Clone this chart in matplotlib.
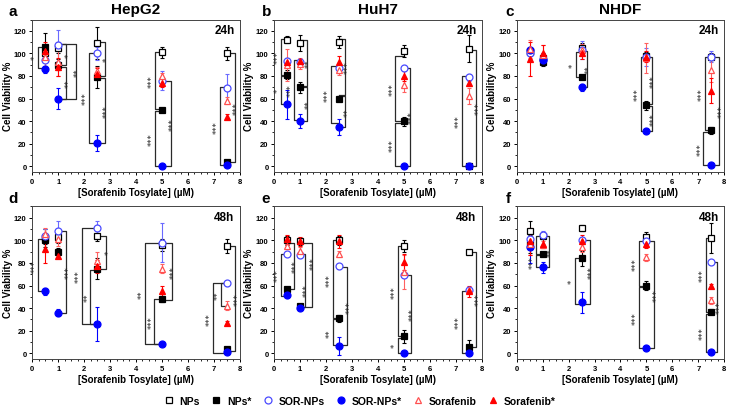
import matplotlib.pyplot as plt
from matplotlib.ticker import MultipleLocator

plt.rcParams['font.family'] = ['Liberation Sans', 'DejaVu Sans']

conc = [0.5, 1, 2.5, 5, 7.5]
series = ["NPs", "NPs*", "SOR-NPs", "SOR-NPs*", "Sorafenib", "Sorafenib*"]

# values per panel, rows follow `series`
a_vals = [[100, 105, 109, 101, 100], [106, 90, 79, 50, 4], [94, 107, 100, 76, 69],
          [86, 60, 21, 0.5, 1], [97, 92, 84, 80, 58], [102, 88, 82, 74, 44]]
a_err = [[5, 5, 14, 5, 6], [12, 5, 10, 2, 1], [8, 14, 6, 8, 13],
         [3, 9, 7, 0.5, 0.5], [10, 12, 4, 3, 3], [8, 8, 5, 4, 2]]
b_vals = [[112, 109, 110, 102, 104], [81, 70, 60, 40, 0.5], [93, 92, 87, 87, 79],
          [55, 40, 35, 0.3, 0.3], [90, 91, 85, 72, 62], [92, 93, 92, 80, 74]]
b_err = [[3, 7, 5, 5, 12], [4, 5, 2, 4, 0.5], [3, 3, 4, 3, 3],
         [13, 6, 7, 0.5, 0.5], [14, 5, 4, 6, 7], [4, 2, 6, 4, 3]]
c_vals = [[102, 96, 105, 98, 97], [101, 92, 79, 54, 32], [100, 95, 103, 97, 97],
          [103, 94, 70, 31, 1.5], [104, 99, 103, 96, 85], [95, 100, 100, 97, 67]]
c_err = [[4, 4, 4, 3, 3], [3, 3, 2, 4, 3], [5, 5, 8, 8, 5],
         [3, 3, 3, 1, 0.5], [8, 8, 5, 13, 10], [15, 7, 5, 5, 11]]
d_vals = [[102, 103, 104, 96, 95], [100, 90, 75, 48, 4], [104, 108, 111, 98, 62],
          [55, 36, 26, 8, 1], [106, 101, 82, 75, 42], [92, 86, 77, 55, 27]]
d_err = [[8, 5, 5, 5, 6], [3, 3, 9, 3, 1], [6, 9, 6, 17, 2],
         [3, 3, 15, 1, 0.5], [5, 6, 8, 4, 4], [12, 2, 6, 5, 2]]
e_vals = [[100, 99, 100, 95, 90], [57, 42, 31, 15, 6], [88, 87, 77, 69, 56],
          [52, 40.5, 6.5, 0.5, 0.5], [95, 91, 88, 72, 56], [101, 99, 99, 81, 55]]
e_err = [[4, 3, 4, 5, 1], [2, 2, 3, 6, 6], [2, 3, 2, 2, 2],
         [3, 2, 8, 0.5, 0.5], [3, 3, 3, 15, 3], [4, 4, 6, 7, 5]]
f_vals = [[108, 104, 111, 103, 102], [97, 88, 84, 60, 37], [101, 105, 100, 99, 81],
          [94, 76, 45, 4.5, 1], [97, 96, 94, 85, 47], [99, 97, 99, 97, 59.5]]
f_err = [[9, 3, 3, 4, 13], [8, 2, 7, 4, 2], [5, 3, 3, 3, 2],
         [14, 5, 9, 1, 0.5], [10, 3, 4, 3, 3], [12, 4, 6, 4, 2]]

# significance brackets: (point x, bracket x, y low, y high, stars[, star y])
a_sig = [(0.5, 0.21, 87, 106, "*"), (1, 1.32, 90, 108, "*"), (1, 1.32, 60, 88, "**"),
         (1, 1.67, 60, 108, "**"), (2.5, 2.2, 21, 100, "***"), (2.5, 2.79, 80, 110, "*"),
         (2.5, 2.79, 21, 78, "***"), (5, 4.74, 51, 101, "***"), (5, 4.74, 0.5, 49, "***"),
         (5, 5.35, 0.5, 76, "***"), (7.5, 7.23, 1, 70, "***"), (7.5, 7.8, 4, 100, "***")]
b_sig = [(0.5, 0.25, 81, 113, "***"), (0.5, 0.25, 55, 80, "*"), (1, 0.77, 41, 94, "***"),
         (1, 1.26, 71, 112, "**"), (1, 1.26, 40, 70, "**"), (2.5, 2.19, 38, 89, "***"),
         (2.5, 2.75, 63, 113, "***"), (2.5, 2.75, 35, 62, "**"), (5, 4.68, 40, 98, "***"),
         (5, 4.68, 0.3, 38, "***"), (5, 5.23, 0.3, 87, "***"), (7.5, 7.23, 0.3, 80, "***"),
         (7.5, 7.8, 0.3, 103, "***")]
c_sig = [(2.5, 2.27, 79, 101, "*"), (2.5, 2.71, 70, 102, "**"), (5, 4.78, 31, 97, "***"),
         (5, 5.22, 55, 97, "***"), (5, 5.22, 31, 53, "***"), (7.5, 7.27, 32, 97, "***"),
         (7.5, 7.2, 1.5, 30, "***"), (7.5, 7.81, 1.5, 97, "***")]
d_sig = [(0.5, 0.21, 55, 101, "***"), (1, 1.31, 36, 108, "***"),
         (2.5, 1.9, 26, 111, "***"), (2.5, 2.24, 26, 74, "**"), (2.5, 2.86, 75, 104, "*"),
         (5, 4.36, 8, 98, "**"), (5, 4.71, 8, 48, "***"), (5, 5.39, 47, 98, "***"),
         (7.5, 6.97, 0, 62, "***"), (7.5, 7.28, 42, 62, "**"), (7.5, 7.83, 2, 95, "***")]
e_sig = [(0.5, 0.26, 51, 88, "***"), (0.5, 0.77, 57, 98, "***"), (1, 1.19, 41, 88, "***", 56),
         (1, 1.46, 41, 98, "***", 80), (2.5, 2.28, 31, 100, "***"), (2.5, 2.28, 7, 30, "**"),
         (2.5, 2.82, 7, 76, "***"), (5, 4.76, 15, 95, "***"), (5, 4.76, 0.5, 14, "*"),
         (5, 5.28, 0.5, 69, "***"), (7.5, 7.25, 0.5, 55, "***"), (7.5, 7.8, 6, 90, "***")]
f_sig = [(1, 0.75, 88, 104, "*"), (1, 0.75, 76, 87, "***"), (1, 1.24, 76, 104, "**"),
         (2.5, 2.24, 44, 84, "*"), (2.5, 2.82, 44, 100, "***"), (5, 4.72, 60, 99, "***"),
         (5, 4.72, 4.5, 59, "***"), (5, 5.3, 4.5, 99, "***"), (7.5, 7.29, 37, 102, "***"),
         (7.5, 7.29, 1, 35, "***"), (7.5, 7.74, 1, 81, "***")]

styles = [
    dict(marker="s", mfc="white", mec="black", color="black", ms=4.5),
    dict(marker="s", mfc="black", mec="black", color="black", ms=4.5),
    dict(marker="o", mfc="white", mec="#4a4aff", color="#6a6aff", ms=5),
    dict(marker="o", mfc="#0000ff", mec="#0000ff", color="#0000ff", ms=5),
    dict(marker="^", mfc="white", mec="#ff5050", color="#ff6060", ms=5),
    dict(marker="^", mfc="#ff0000", mec="#ff0000", color="#ff0000", ms=5),
]

panels = [
    ("a", "HepG2", "24h", a_vals, a_err, a_sig),
    ("b", "HuH7", "24h", b_vals, b_err, b_sig),
    ("c", "NHDF", "24h", c_vals, c_err, c_sig),
    ("d", None, "48h", d_vals, d_err, d_sig),
    ("e", None, "48h", e_vals, e_err, e_sig),
    ("f", None, "48h", f_vals, f_err, f_sig),
]

lefts = [0.044, 0.374, 0.705]
letter_dx = [-0.033, -0.017, -0.015]
bottoms = [0.578, 0.122]
W, H = 0.283, 0.372

fig = plt.figure(figsize=(7.33, 4.1), dpi=100)

handles = []
for k, (letter, title, time, vals, errs, sig) in enumerate(panels):
    ax = fig.add_axes([lefts[k % 3], bottoms[k // 3], W, H])
    for b in sig:
        xp, vx, y1, y2, lab = b[:5]
        ly = b[5] if len(b) > 5 else (y1 + y2) / 2
        side = 1 if vx > xp else -1
        ax.plot([xp, vx, vx, xp], [y2, y2, y1, y1], color="#2a2a2a", lw=0.9, zorder=1)
        ax.text(vx + side * 0.1, ly, lab, rotation=90, fontsize=6,
                family="DejaVu Sans", ha="center", va="center", color="#222222")
    for i in range(6):
        st = styles[i]
        ax.errorbar(conc, vals[i], yerr=errs[i], fmt="none", ecolor=st["color"],
                    elinewidth=0.8, capsize=1.5, capthick=0.8, zorder=2)
        m, = ax.plot(conc, vals[i], ls="none", marker=st["marker"], mfc=st["mfc"],
                     mec=st["mec"], ms=st["ms"], mew=0.9, zorder=3, label=series[i])
        if k == 0:
            handles.append(m)
    ax.set_xlim(0, 8)
    ax.set_ylim(-5, 130)
    ax.xaxis.set_major_locator(MultipleLocator(1))
    ax.xaxis.set_minor_locator(MultipleLocator(0.25))
    ax.yaxis.set_major_locator(MultipleLocator(20))
    ax.yaxis.set_minor_locator(MultipleLocator(10))
    ax.tick_params(which="major", direction="out", length=2.5, width=0.7, labelsize=5.5, pad=1.5)
    ax.tick_params(which="minor", direction="out", length=1.3, width=0.6)
    for lbl in ax.get_xticklabels() + ax.get_yticklabels():
        lbl.set_fontweight("bold")
    for sp in ax.spines.values():
        sp.set_linewidth(0.7)
        sp.set_color("#444444")
    ax.set_ylabel("Cell Viability %", fontsize=7, fontweight="bold", labelpad=1)
    ax.set_xlabel("[Sorafenib Tosylate] (\u00b5M)", fontsize=7, fontweight="bold", labelpad=2)
    ax.text(0.975, 0.93, time, transform=ax.transAxes, ha="right", va="center",
            fontsize=8.5, fontweight="bold")
    pos = ax.get_position()
    fig.text(pos.x0 + letter_dx[k % 3], pos.y1 + 0.004, letter, fontsize=11,
             fontweight="bold", ha="left", va="bottom")
    if title:
        fig.text(pos.x0 + pos.width / 2, pos.y1 + 0.008, title, fontsize=11,
                 fontweight="bold", ha="center", va="bottom")

fig.legend(handles=handles, loc="center", bbox_to_anchor=(0.49, 0.02), ncol=6,
           frameon=False, prop={"size": 7.5, "weight": "bold"}, handletextpad=0.4,
           columnspacing=1.0, handlelength=1.2)

fig.savefig("out.png", dpi=100)
